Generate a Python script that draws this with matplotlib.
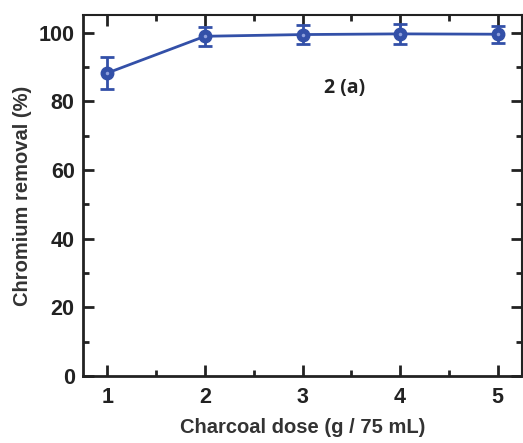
import matplotlib
matplotlib.use("Agg")
import matplotlib.pyplot as plt
from matplotlib.ticker import MultipleLocator

dose = [1, 2, 3, 4, 5]
removal = [88.3, 99.0, 99.5, 99.7, 99.6]
err = [4.7, 2.8, 2.8, 2.9, 2.5]
xticks = [1, 2, 3, 4, 5]
yticks = [0, 20, 40, 60, 80, 100]

blue = "#3350a8"
sans = ["Liberation Sans", "DejaVu Sans"]

fig = plt.figure(figsize=(5.23, 4.43), dpi=100)
ax = fig.add_axes([83/523, 1-376/443, (522-83)/523, (376-15)/443])

ax.errorbar(dose, removal, yerr=err, color=blue, lw=2, marker="o", ms=9,
            mfc=blue, mec=blue, elinewidth=2, capsize=5, capthick=2, zorder=3)
ax.plot(dose, removal, "o", ms=2.5, color="#8fa0dc", ls="none", zorder=4,
        markeredgewidth=0)

ax.set_xlim(0.75, 5.25)
ax.set_ylim(0, 105.2)
ax.set_xticks(xticks)
ax.set_yticks(yticks)
ax.xaxis.set_minor_locator(MultipleLocator(0.5))
ax.yaxis.set_minor_locator(MultipleLocator(10))

for s in ax.spines.values():
    s.set_linewidth(2)
    s.set_color("#222222")
for s in ("top", "right"):
    ax.spines[s].set_linewidth(1.5)

ax.tick_params(axis="both", which="major", direction="in", length=8, width=2,
               color="#222222")
ax.tick_params(axis="both", which="minor", direction="in", length=4, width=2,
               color="#222222")
ax.tick_params(axis="both", which="both", labelsize=15.5)
ax.tick_params(axis="x", which="both", pad=8)
ax.tick_params(axis="y", which="both", pad=6)
for which in ("major", "minor"):
    ax.tick_params(axis="x", which=which, top=True)
    ax.tick_params(axis="y", which=which, right=True)

for lab in ax.get_xticklabels() + ax.get_yticklabels():
    lab.set_family(sans)
    lab.set_fontweight("bold")
    lab.set_color("#222222")

ax.set_xlabel("Charcoal dose (g / 75 mL)", family=sans, fontsize=14.5,
              fontweight="bold", color="#333333", labelpad=7)
ax.set_ylabel("Chromium removal (%)", family=sans, fontsize=14.5,
              fontweight="bold", color="#333333", labelpad=5)

ax.text(3.43, 83.8, "2 (a)", family=["Open Sans", "DejaVu Sans"], fontweight="bold",
        fontsize=14, ha="center", va="center", color="#222222")

fig.savefig("out.png", dpi=100)
